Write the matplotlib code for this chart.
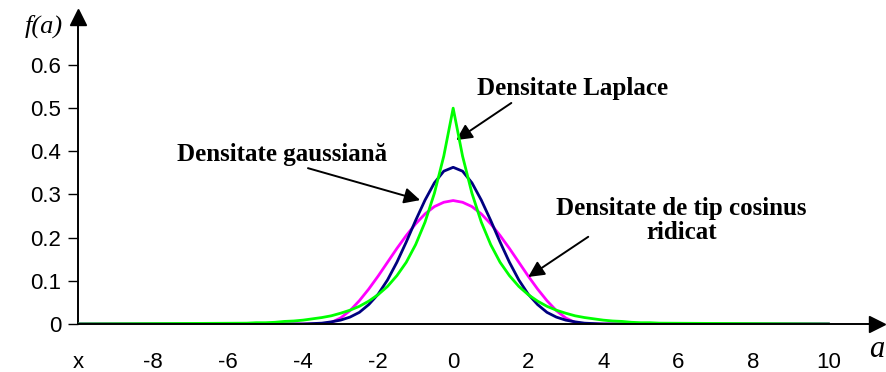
import numpy as np
import matplotlib
matplotlib.use("Agg")
import matplotlib.pyplot as plt

# values (density curves)
a_vals = [-10, -5.5, -5.25, -5.0, -4.75, -4.5, -4.25, -4.0, -3.75, -3.5, -3.25, -3.0,
          -2.75, -2.5, -2.25, -2.0, -1.75, -1.5, -1.25, -1.0, -0.75, -0.5, -0.25, 0.0,
          0.25, 0.5, 0.75, 1.0, 1.25, 1.5, 1.75, 2.0, 2.25, 2.5, 2.75, 3.0, 3.25,
          3.5, 3.75, 4.0, 4.25, 4.5, 4.75, 5.0, 5.25, 5.5, 10]

half_laplace = [0.002, 0.003, 0.003, 0.004, 0.006, 0.007, 0.009, 0.012, 0.015, 0.019,
                0.025, 0.032, 0.041, 0.053, 0.068, 0.087, 0.112, 0.143, 0.184, 0.236,
                0.303, 0.389]
half_gauss = [0.0, 0.0, 0.0, 0.0, 0.0, 0.0, 0.0, 0.001, 0.002, 0.005,
              0.009, 0.016, 0.027, 0.045, 0.069, 0.102, 0.143, 0.190, 0.240, 0.287,
              0.327, 0.354]
half_cosine = [0.0, 0.0, 0.0, 0.0, 0.0, 0.0, 0.0, 0.0, 0.0, 0.0036,
               0.014, 0.031, 0.054, 0.081, 0.111, 0.143, 0.175, 0.205, 0.232, 0.255,
               0.272, 0.282]
peak_laplace = 0.5
peak_gauss = 0.363
peak_cosine = 0.286

laplace = [0] + half_laplace + [peak_laplace] + half_laplace[::-1] + [0]
gauss = [0] + half_gauss + [peak_gauss] + half_gauss[::-1] + [0]
cosine = [0] + half_cosine + [peak_cosine] + half_cosine[::-1] + [0]

x_ticks = [-10, -8, -6, -4, -2, 0, 2, 4, 6, 8, 10]
x_tick_labels = ["x", "-8", "-6", "-4", "-2", "0", "2", "4", "6", "8", "10"]
y_ticks = [0, 0.1, 0.2, 0.3, 0.4, 0.5, 0.6]
y_tick_labels = ["0", "0.1", "0.2", "0.3", "0.4", "0.5", "0.6"]

fig = plt.figure(figsize=(8.86, 3.72), dpi=100)
ax = fig.add_axes([0.088, 0.129, 0.902, 0.824])

ax.plot(a_vals, cosine, color="#FF00FF", lw=2, zorder=3)
ax.plot(a_vals, gauss, color="#000080", lw=2, zorder=4)
ax.plot(a_vals, laplace, color="#00FF00", lw=2, zorder=5)

ax.set_xlim(-10, 11.3)
ax.set_ylim(0, 0.71)

for s in ["top", "right"]:
    ax.spines[s].set_visible(False)
ax.spines["left"].set_color("black")
ax.spines["bottom"].set_color("black")
ax.spines["bottom"].set_linewidth(1.4)
ax.spines["left"].set_linewidth(1.4)
ax.spines["bottom"].set_zorder(6)

# arrow heads on the axes
ax.plot(1, 0, ">k", ms=12, transform=ax.get_yaxis_transform(), clip_on=False, zorder=7)
ax.plot(-10, 1, "^k", ms=12, transform=ax.get_xaxis_transform(), clip_on=False, zorder=7)

ax.set_xticks(x_ticks)
ax.set_xticklabels(x_tick_labels, family="Liberation Sans", fontsize=16)
ax.tick_params(axis="x", length=0, pad=20)
ax.set_yticks(y_ticks)
ax.set_yticklabels(y_tick_labels, family="Liberation Sans", fontsize=16)
ax.tick_params(axis="y", length=7, width=1, pad=5)

ax.text(-10.4, 0.69, "f(a)", family="Liberation Serif", style="italic",
        fontsize=19, ha="right", va="center", clip_on=False)
ax.text(11.3, -0.06, "a", family="Liberation Serif", style="italic",
        fontsize=22, ha="center", va="center", clip_on=False)

bold = dict(family="Liberation Serif", weight="bold", fontsize=18)
ax.text(3.19, 0.545, "Densitate Laplace", ha="center", va="center", **bold)
ax.text(-4.56, 0.393, "Densitate gaussiană", ha="center", va="center", **bold)
ax.text(6.08, 0.24, "Densitate de tip cosinus\nridicat", ha="center", va="center",
        linespacing=1.05, **bold)

arrow = dict(arrowstyle="-|>", color="black", lw=1.4, mutation_scale=24,
             shrinkA=0, shrinkB=0)
ax.annotate("", xy=(0.08, 0.426), xytext=(1.55, 0.512), arrowprops=arrow)
ax.annotate("", xy=(-0.88, 0.287), xytext=(-3.87, 0.361), arrowprops=arrow)
ax.annotate("", xy=(2.0, 0.109), xytext=(3.6, 0.202), arrowprops=arrow)

fig.savefig("out.png", dpi=100)
